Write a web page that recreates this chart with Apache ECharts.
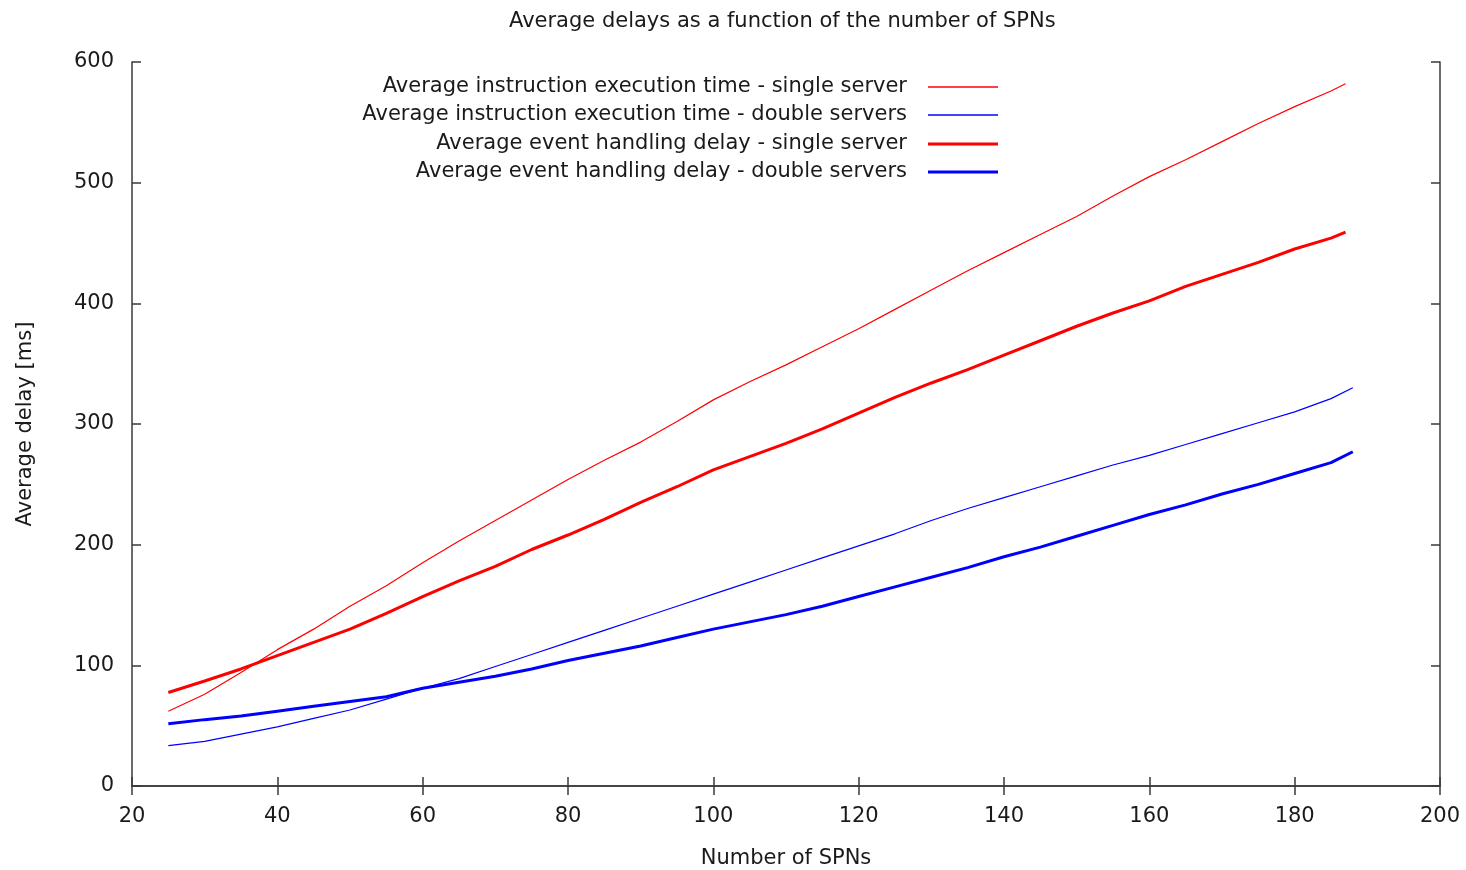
<!DOCTYPE html>
<html>
<head>
<meta charset="utf-8">
<script src="https://cdn.jsdelivr.net/npm/echarts@6/dist/echarts.min.js"></script>
<style>html,body{margin:0;padding:0;background:#fff}#c{width:1466px;height:870px}</style>
</head>
<body>
<div id="c"></div>
<script>
// Number of SPNs (x values)
const spnRed  = [25,30,35,40,45,50,55,60,65,70,75,80,85,90,95,100,105,110,115,120,125,130,135,140,145,150,155,160,165,170,175,180,185,187];
const spnBlue = [25,30,35,40,45,50,55,60,65,70,75,80,85,90,95,100,105,110,115,120,125,130,135,140,145,150,155,160,165,170,175,180,185,188];

// Average instruction execution time - single server
const instrSingle = [62,76,94,113,130,149,166,185,203,220,237,254,270,285,302,320,335,349,364,379,395,411,427,442,457,472,489,505,519,534,549,563,576,582];
// Average instruction execution time - double servers
const instrDouble = [33.5,37,43,49,56,63,72,81,89,99,109,119,129,139,149,159,169,179,189,199,209,220,230,239,248,257,266,274,283,292,301,310,321,330];
// Average event handling delay - single server
const eventSingle = [77.5,87,97,108,119,130,143,157,170,182,196,208,221,235,248,262,273,284,296,309,322,334,345,357,369,381,392,402,414,424,434,445,454,459];
// Average event handling delay - double servers
const eventDouble = [51.5,55,58,62,66,70,74,81,86,91,97,104,110,116,123,130,136,142,149,157,165,173,181,190,198,207,216,225,233,242,250,259,268,277];

const names = [
  'Average instruction execution time - single server',
  'Average instruction execution time - double servers',
  'Average event handling delay - single server',
  'Average event handling delay - double servers'
];
const xTicks = {min:20, max:200, interval:20};
const yTicks = {min:0, max:600, interval:100};

function pairs(xs, ys){ return xs.map((x,i)=>[x, ys[i]]); }

const FONT = 'DejaVu Sans';
const txt = '#1a1a1a';
const axisColor = '#3a3a3a';

const chart = echarts.init(document.getElementById('c'), null, {renderer:'canvas'});

const seriesDefs = [
  {name:names[0], data:pairs(spnRed, instrSingle), color:'#ff0000', w:1.2},
  {name:names[1], data:pairs(spnBlue, instrDouble), color:'#0000ff', w:1.2},
  {name:names[2], data:pairs(spnRed, eventSingle), color:'#ff0000', w:3},
  {name:names[3], data:pairs(spnBlue, eventDouble), color:'#0000ff', w:3}
];

const legendCenters = [87, 115, 144, 172];

const axisCommon = {
  type:'value',
  axisLine:{show:true, lineStyle:{color:axisColor, width:1.5}},
  axisTick:{show:true, inside:true, length:9, lineStyle:{color:axisColor, width:1.5}},
  splitLine:{show:false},
  axisLabel:{color:txt, fontSize:21, fontFamily:FONT}
};

chart.setOption({
  animation:false,
  backgroundColor:'#fff',
  title:{
    text:'Average delays as a function of the number of SPNs',
    left:504, top:6,
    textStyle:{color:txt, fontSize:21, fontWeight:'normal', fontFamily:FONT}
  },
  legend: seriesDefs.map((s,i)=>({
    data:[{name:s.name, icon:'rect'}],
    right:468, top:legendCenters[i]-12,
    padding:0,
    orient:'horizontal',
    align:'right',
    itemWidth:70, itemHeight:s.w < 2 ? 1.5 : 3,
    selectedMode:false,
    textStyle:{color:txt, fontSize:21, fontFamily:FONT, padding:[0,16,0,0], lineHeight:24}
  })),
  grid:{left:132, right:26, top:62, bottom:84, containLabel:false, outerBoundsMode:'none'},
  xAxis:[
    Object.assign({}, axisCommon, xTicks, {
      position:'bottom',
      name:'Number of SPNs', nameLocation:'middle', nameGap:62,
      nameTextStyle:{color:txt, fontSize:21, fontFamily:FONT},
      axisLabel:Object.assign({}, axisCommon.axisLabel, {margin:20})
    }),
    Object.assign({}, axisCommon, xTicks, {
      position:'top', axisLabel:{show:false}
    })
  ],
  yAxis:[
    Object.assign({}, axisCommon, yTicks, {
      position:'left',
      name:'Average delay [ms]', nameLocation:'middle', nameGap:96, nameRotate:90,
      nameTextStyle:{color:txt, fontSize:21, fontFamily:FONT},
      axisLabel:Object.assign({}, axisCommon.axisLabel, {margin:18})
    }),
    Object.assign({}, axisCommon, yTicks, {
      position:'right', axisLabel:{show:false}
    })
  ],
  series: seriesDefs.map(s=>({
    name:s.name, type:'line', data:s.data,
    xAxisIndex:0, yAxisIndex:0,
    showSymbol:false, symbol:'none',
    lineStyle:{color:s.color, width:s.w},
    itemStyle:{color:s.color},
    z:2
  }))
});
</script>
</body>
</html>
